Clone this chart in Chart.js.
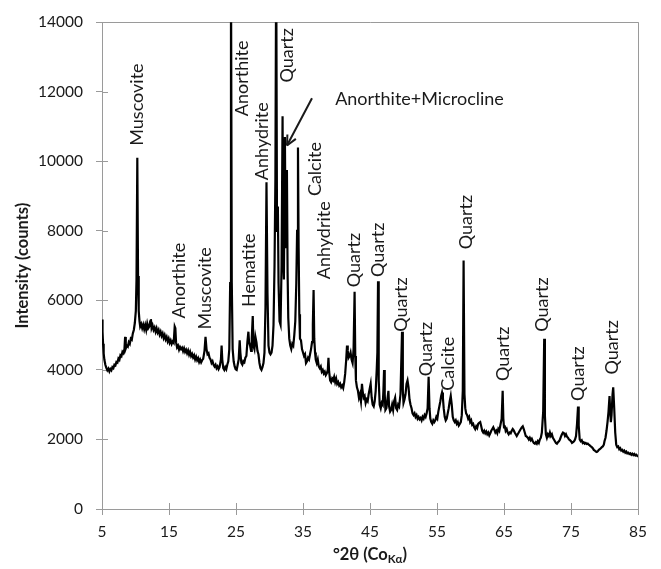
<!DOCTYPE html>
<html>
<head>
<meta charset="utf-8">
<script src="https://cdn.jsdelivr.net/npm/chart.js@4.4.0/dist/chart.umd.min.js"></script>
<style>
  html, body { margin: 0; padding: 0; background: #fff; }
  #wrap { width: 661px; height: 569px; }
</style>
</head>
<body>
<div id="wrap"><canvas id="xrd" width="661" height="569"></canvas></div>
<script>
// XRD scan: [2-theta (deg, Co K-alpha), intensity (counts)]
const scan = [
  [5.00, 5450], [5.08, 5100], [5.16, 4750], [5.25, 4480], [5.35, 4300], [5.5, 4150], [5.65, 4060], [5.8, 3990],
  [5.95, 4040], [6.1, 3960], [6.25, 4030], [6.4, 3990], [6.55, 4080], [6.7, 4050], [6.85, 4150], [7.0, 4130],
  [7.15, 4230], [7.3, 4210], [7.45, 4330], [7.6, 4290], [7.75, 4420], [7.9, 4390], [8.05, 4520], [8.2, 4480],
  [8.35, 4600], [8.45, 4950], [8.55, 4620], [8.7, 4700], [8.85, 4670], [9.0, 4800], [9.15, 4750], [9.3, 4900],
  [9.45, 4870], [9.6, 5050], [9.75, 5150], [9.9, 5350], [10.05, 5700], [10.15, 6600], [10.27, 10100], [10.38, 6700],
  [10.48, 5700], [10.6, 5400], [10.7, 5250], [10.85, 5320], [11.0, 5200], [11.15, 5300], [11.3, 5170], [11.45, 5290],
  [11.6, 5150], [11.75, 5330], [11.9, 5200], [12.05, 5250], [12.2, 5400], [12.3, 5460], [12.4, 5200], [12.55, 5280],
  [12.7, 5150], [12.85, 5220], [13.0, 5100], [13.15, 5200], [13.3, 5080], [13.45, 5150], [13.6, 5020], [13.75, 5100],
  [13.9, 4980], [14.05, 5050], [14.2, 4920], [14.35, 5000], [14.5, 4880], [14.65, 4950], [14.8, 4820], [14.95, 4900],
  [15.1, 4780], [15.25, 4850], [15.4, 4750], [15.55, 4820], [15.7, 4780], [15.85, 5250], [15.95, 5200], [16.05, 4800],
  [16.2, 4650], [16.35, 4700], [16.5, 4580], [16.65, 4660], [16.8, 4600], [16.95, 4640], [17.1, 4540], [17.25, 4620],
  [17.4, 4520], [17.55, 4580], [17.7, 4480], [17.85, 4560], [18.0, 4440], [18.15, 4520], [18.3, 4400], [18.45, 4460],
  [18.6, 4360], [18.75, 4420], [18.9, 4300], [19.05, 4380], [19.2, 4280], [19.35, 4340], [19.5, 4230], [19.65, 4300],
  [19.8, 4220], [19.95, 4280], [20.1, 4320], [20.3, 4550], [20.45, 4950], [20.6, 4600], [20.75, 4450], [20.9, 4480],
  [21.05, 4350], [21.2, 4300], [21.35, 4200], [21.5, 4250], [21.65, 4150], [21.8, 4100], [21.95, 4150], [22.1, 4050],
  [22.25, 4100], [22.4, 4020], [22.55, 4080], [22.75, 4300], [22.85, 4700], [22.95, 4300], [23.1, 4050], [23.25, 4000],
  [23.4, 4080], [23.55, 4020], [23.7, 4150], [23.85, 4250], [24.0, 4600], [24.13, 6500], [24.25, 16000], [24.37, 6500],
  [24.5, 4600], [24.65, 4250], [24.8, 4100], [24.95, 4020], [25.1, 4000], [25.25, 4150], [25.4, 4300], [25.55, 4850],
  [25.65, 4500], [25.8, 4200], [25.95, 4150], [26.1, 4250], [26.25, 4220], [26.4, 4350], [26.55, 4400], [26.7, 4800],
  [26.85, 5100], [26.95, 4800], [27.1, 4700], [27.25, 4550], [27.35, 4900], [27.5, 5550], [27.6, 4700], [27.75, 4600],
  [27.9, 4950], [28.05, 4800], [28.2, 4550], [28.35, 4450], [28.5, 4200], [28.65, 4050], [28.8, 4000], [28.95, 4080],
  [29.1, 4200], [29.25, 4500], [29.4, 5800], [29.55, 9400], [29.7, 6200], [29.85, 4700], [30.0, 4500], [30.15, 4450],
  [30.3, 4500], [30.45, 4700], [30.6, 5300], [30.75, 7000], [30.88, 9500], [31.0, 16000], [31.12, 8000], [31.25, 8700],
  [31.35, 6500], [31.5, 5400], [31.65, 5300], [31.8, 7000], [31.95, 11300], [32.05, 7200], [32.15, 6600], [32.3, 10700],
  [32.4, 7500], [32.5, 8200], [32.6, 9750], [32.7, 6800], [32.8, 5500], [32.95, 4900], [33.1, 4700], [33.25, 4600],
  [33.4, 4750], [33.55, 4700], [33.7, 5000], [33.85, 5400], [34.0, 6500], [34.12, 8000], [34.25, 10400], [34.35, 7500],
  [34.45, 5600], [34.55, 4900], [34.7, 4850], [34.85, 4600], [35.0, 4500], [35.15, 4400], [35.3, 4450], [35.45, 4200],
  [35.6, 4250], [35.75, 4350], [35.9, 4300], [36.05, 4450], [36.2, 4600], [36.35, 4800], [36.47, 5300], [36.58, 6300],
  [36.68, 4900], [36.8, 4500], [36.9, 4300], [37.05, 4200], [37.2, 4300], [37.35, 4100], [37.5, 4050], [37.65, 4100],
  [37.8, 3950], [37.95, 4000], [38.1, 3900], [38.25, 3950], [38.4, 3850], [38.55, 3900], [38.7, 4000], [38.8, 4350],
  [38.9, 3950], [39.05, 3700], [39.2, 3650], [39.35, 3750], [39.5, 3700], [39.65, 3800], [39.8, 3650], [39.95, 3750],
  [40.1, 3600], [40.25, 3650], [40.4, 3550], [40.55, 3600], [40.7, 3500], [40.85, 3550], [41.0, 3480], [41.15, 3650],
  [41.3, 3900], [41.45, 4300], [41.57, 4700], [41.68, 4550], [41.8, 4350], [41.95, 4400], [42.1, 4500], [42.25, 4300],
  [42.4, 4200], [42.55, 4600], [42.7, 6250], [42.8, 4400], [42.9, 3700], [43.05, 3500], [43.2, 3400], [43.35, 3200],
  [43.5, 3300], [43.65, 3100], [43.8, 3600], [43.9, 3400], [44.05, 3200], [44.2, 3250], [44.35, 3050], [44.5, 3150],
  [44.65, 3100], [44.8, 3300], [44.95, 3450], [45.1, 3600], [45.25, 3200], [45.4, 3000], [45.55, 2950], [45.7, 3100],
  [45.85, 3400], [46.0, 4000], [46.1, 4500], [46.2, 6550], [46.3, 3700], [46.45, 3000], [46.6, 2900], [46.75, 3050],
  [46.9, 3000], [47.0, 3400], [47.1, 4000], [47.2, 3300], [47.3, 2850], [47.45, 2900], [47.6, 3150], [47.75, 3400],
  [47.85, 2950], [48.0, 2800], [48.15, 2850], [48.3, 3000], [48.45, 2850], [48.6, 3100], [48.75, 3200], [48.9, 2900],
  [49.05, 2850], [49.2, 3000], [49.35, 2950], [49.55, 3300], [49.78, 5100], [49.9, 3400], [50.0, 3050], [50.15, 3150],
  [50.3, 3300], [50.45, 3600], [50.6, 3700], [50.75, 3500], [50.9, 3150], [51.05, 3000], [51.2, 2900], [51.35, 2750],
  [51.5, 2700], [51.65, 2750], [51.8, 2650], [51.95, 2700], [52.1, 2600], [52.25, 2650], [52.4, 2580], [52.55, 2620],
  [52.7, 2550], [52.85, 2650], [53.0, 2600], [53.15, 2700], [53.3, 2650], [53.45, 2750], [53.6, 2900], [53.75, 3800],
  [53.88, 2900], [54.0, 2600], [54.15, 2500], [54.3, 2450], [54.45, 2550], [54.6, 2500], [54.75, 2550], [54.9, 2650],
  [55.05, 2600], [55.2, 2800], [55.35, 2950], [55.5, 3100], [55.62, 3250], [55.75, 3350], [55.88, 3200], [56.0, 2900],
  [56.15, 2650], [56.3, 2550], [56.45, 2600], [56.6, 2750], [56.75, 2900], [56.9, 3100], [57.05, 3250], [57.2, 3000],
  [57.35, 2650], [57.5, 2550], [57.65, 2500], [57.8, 2550], [57.95, 2450], [58.1, 2500], [58.25, 2400], [58.4, 2450],
  [58.55, 2500], [58.7, 2700], [58.85, 3400], [58.97, 7150], [59.1, 3300], [59.22, 2900], [59.35, 2750], [59.5, 2700],
  [59.65, 2600], [59.8, 2650], [59.95, 2500], [60.1, 2550], [60.25, 2420], [60.4, 2450], [60.55, 2350], [60.7, 2300],
  [60.85, 2380], [61.0, 2330], [61.15, 2450], [61.3, 2480], [61.45, 2500], [61.6, 2380], [61.75, 2250], [61.9, 2200],
  [62.05, 2250], [62.2, 2180], [62.35, 2230], [62.5, 2150], [62.65, 2200], [62.8, 2120], [62.95, 2180], [63.1, 2250],
  [63.25, 2300], [63.4, 2350], [63.55, 2280], [63.7, 2200], [63.85, 2250], [64.0, 2180], [64.15, 2300], [64.3, 2250],
  [64.45, 2400], [64.65, 2600], [64.8, 3400], [64.9, 2600], [65.0, 2350], [65.1, 2400], [65.25, 2250], [65.4, 2300],
  [65.55, 2200], [65.7, 2150], [65.85, 2200], [66.0, 2180], [66.15, 2250], [66.3, 2300], [66.45, 2260], [66.6, 2200],
  [66.75, 2150], [66.9, 2100], [67.05, 2150], [67.2, 2200], [67.35, 2250], [67.5, 2300], [67.65, 2350], [67.8, 2380],
  [67.95, 2300], [68.1, 2200], [68.25, 2100], [68.4, 2080], [68.55, 2050], [68.7, 2000], [68.85, 2050], [69.0, 1980],
  [69.15, 2020], [69.3, 1950], [69.45, 1900], [69.6, 1880], [69.75, 1920], [69.9, 1880], [70.05, 1950], [70.2, 1900],
  [70.35, 2000], [70.5, 2050], [70.65, 2200], [70.85, 2800], [71.0, 4900], [71.1, 2700], [71.25, 2150], [71.4, 2050],
  [71.55, 2150], [71.7, 2100], [71.85, 2200], [72.0, 2100], [72.15, 2150], [72.3, 2050], [72.45, 2000], [72.6, 1950],
  [72.75, 1900], [72.9, 1880], [73.05, 1920], [73.2, 1950], [73.35, 2000], [73.5, 2080], [73.65, 2150], [73.8, 2200],
  [73.95, 2180], [74.1, 2100], [74.25, 2150], [74.4, 2080], [74.55, 2050], [74.7, 2000], [74.85, 1980], [75.0, 1950],
  [75.15, 1900], [75.3, 1920], [75.45, 1950], [75.6, 2000], [75.75, 2100], [75.9, 2450], [76.05, 2950], [76.15, 2400],
  [76.3, 2000], [76.45, 1950], [76.6, 1980], [76.75, 1900], [76.9, 1920], [77.05, 1880], [77.2, 1900], [77.35, 1870],
  [77.5, 1880], [77.65, 1850], [77.8, 1830], [77.95, 1800], [78.1, 1780], [78.25, 1750], [78.4, 1700], [78.55, 1680],
  [78.7, 1650], [78.85, 1640], [79.0, 1660], [79.15, 1700], [79.3, 1720], [79.45, 1750], [79.6, 1780], [79.75, 1800],
  [79.9, 1850], [80.0, 1950], [80.15, 2050], [80.3, 2250], [80.45, 2500], [80.6, 2800], [80.75, 3250], [80.85, 2800],
  [80.95, 2500], [81.05, 2700], [81.2, 3300], [81.3, 3500], [81.45, 2900], [81.6, 2200], [81.75, 1850], [81.9, 1780],
  [82.05, 1800], [82.2, 1720], [82.35, 1750], [82.5, 1680], [82.65, 1700], [82.8, 1650], [82.95, 1680], [83.1, 1620],
  [83.25, 1650], [83.4, 1600], [83.55, 1620], [83.7, 1580], [83.85, 1600], [84.0, 1560], [84.15, 1590], [84.3, 1550],
  [84.45, 1580], [84.6, 1540], [84.75, 1560], [84.9, 1530], [85.0, 1550]
];

// phase names written beside the peaks, anchored at [2-theta, counts] where the text starts
const phaseNames = ['Muscovite', 'Anorthite', 'Muscovite', 'Anorthite', 'Hematite', 'Anhydrite', 'Quartz',
  'Calcite', 'Anhydrite', 'Quartz', 'Quartz', 'Quartz', 'Quartz', 'Calcite', 'Quartz', 'Quartz', 'Quartz',
  'Quartz', 'Quartz'];
const phaseAt = [[10.3, 10450], [16.5, 5480], [20.4, 5160], [25.9, 11300], [26.9, 5810], [28.9, 9460],
  [32.6, 12270], [36.8, 9000], [38.2, 6610], [42.7, 6380], [46.2, 6670], [49.7, 5100], [53.4, 3820],
  [56.7, 3400], [59.35, 7470], [64.9, 3680], [70.7, 5100], [76.0, 3110], [81.1, 3870]];

// the overlapping reflection near 32 deg gets a callout
const calloutText = 'Anorthite+Microcline';
const calloutTextAt = [39.8, 11790];
const calloutFrom = [36.34, 11815];
const calloutTo = [32.61, 10458];

const xRange = [5, 85];
const yRange = [0, 14000];

const axisGrey = '#9a9a9a';
const inkColor = '#1a1a1a';
const fontFamily = 'Lato, "Open Sans", sans-serif';

Chart.defaults.font.family = fontFamily;
Chart.defaults.color = inkColor;

function line(ctx, x1, y1, x2, y2) {
  ctx.beginPath();
  ctx.moveTo(x1, y1);
  ctx.lineTo(x2, y2);
  ctx.stroke();
}

const frame = {
  id: 'frame',
  beforeDatasetsDraw(chart) {
    const ctx = chart.ctx;
    const a = chart.chartArea;
    const xs = chart.scales.x;
    const ys = chart.scales.y;
    ctx.save();
    ctx.strokeStyle = axisGrey;
    ctx.lineWidth = 1;
    // top and right edges of the plot box
    line(ctx, a.left, Math.round(a.top) + 0.5, Math.round(a.right) + 0.5, Math.round(a.top) + 0.5);
    line(ctx, Math.round(a.right) + 0.5, a.top, Math.round(a.right) + 0.5, a.bottom);
    // ticks cross the axes, so add the inner halves
    xs.ticks.forEach(t => {
      const px = Math.round(xs.getPixelForValue(t.value)) + 0.5;
      line(ctx, px, a.bottom, px, a.bottom - 6);
    });
    ys.ticks.forEach(t => {
      const py = Math.round(ys.getPixelForValue(t.value)) + 0.5;
      line(ctx, a.left, py, a.left + 6, py);
    });
    ctx.restore();
  },
  afterDatasetsDraw(chart) {
    const ctx = chart.ctx;
    const a = chart.chartArea;
    const xs = chart.scales.x;
    const ys = chart.scales.y;
    ctx.save();
    ctx.fillStyle = inkColor;
    ctx.strokeStyle = inkColor;

    // vertical phase names
    ctx.font = '18px ' + fontFamily;
    ctx.textAlign = 'left';
    ctx.textBaseline = 'middle';
    phaseNames.forEach((name, i) => {
      const px = xs.getPixelForValue(phaseAt[i][0]);
      const py = ys.getPixelForValue(phaseAt[i][1]);
      ctx.save();
      ctx.translate(px, py);
      ctx.rotate(-Math.PI / 2);
      ctx.fillText(name, 0, 0);
      ctx.restore();
    });

    // callout text and arrow
    ctx.fillText(calloutText, xs.getPixelForValue(calloutTextAt[0]), ys.getPixelForValue(calloutTextAt[1]));
    const x1 = xs.getPixelForValue(calloutFrom[0]);
    const y1 = ys.getPixelForValue(calloutFrom[1]);
    const x2 = xs.getPixelForValue(calloutTo[0]);
    const y2 = ys.getPixelForValue(calloutTo[1]);
    ctx.lineWidth = 2;
    line(ctx, x1, y1, x2, y2);
    const ang = Math.atan2(y2 - y1, x2 - x1);
    const head = 11;
    line(ctx, x2, y2, x2 - head * Math.cos(ang - 0.45), y2 - head * Math.sin(ang - 0.45));
    line(ctx, x2, y2, x2 - head * Math.cos(ang + 0.45), y2 - head * Math.sin(ang + 0.45));

    // axis titles
    ctx.font = 'bold 16.5px ' + fontFamily;
    ctx.textAlign = 'center';
    ctx.save();
    ctx.translate(23, (a.top + a.bottom) / 2);
    ctx.rotate(-Math.PI / 2);
    ctx.fillText('Intensity (counts)', 0, 0);
    ctx.restore();

    const main = '\u00b02\u03b8 (Co';
    const sub = 'K\u03b1';
    const close = ')';
    const mainFont = 'bold 16.5px ' + fontFamily;
    const subFont = 'bold 11.5px ' + fontFamily;
    ctx.font = mainFont;
    const w1 = ctx.measureText(main).width;
    const w3 = ctx.measureText(close).width;
    ctx.font = subFont;
    const w2 = ctx.measureText(sub).width;
    let tx = (a.left + a.right) / 2 - (w1 + w2 + w3) / 2;
    const base = 560;
    ctx.textAlign = 'left';
    ctx.textBaseline = 'alphabetic';
    ctx.font = mainFont;
    ctx.fillText(main, tx, base);
    tx += w1;
    ctx.font = subFont;
    ctx.fillText(sub, tx, base + 3);
    tx += w2;
    ctx.font = mainFont;
    ctx.fillText(close, tx, base);
    ctx.restore();
  }
};

new Chart(document.getElementById('xrd'), {
  type: 'line',
  data: {
    datasets: [{
      data: scan.map(p => ({ x: p[0], y: p[1] })),
      borderColor: '#000',
      borderWidth: 2.2,
      pointRadius: 0,
      tension: 0,
      fill: false
    }]
  },
  options: {
    responsive: false,
    animation: false,
    devicePixelRatio: 1,
    layout: { padding: { top: 17, right: 23, left: 0, bottom: 0 } },
    plugins: { legend: { display: false }, tooltip: { enabled: false } },
    scales: {
      x: {
        type: 'linear',
        min: xRange[0],
        max: xRange[1],
        afterFit: s => { s.height = 60; },
        ticks: { stepSize: 10, padding: 8, color: inkColor, font: { size: 15.5 }, maxRotation: 0,
          callback: v => String(v) },
        grid: { display: true, drawOnChartArea: false, drawTicks: true, tickLength: 6, color: axisGrey },
        border: { display: true, color: axisGrey, width: 1 }
      },
      y: {
        min: yRange[0],
        max: yRange[1],
        afterFit: s => { s.width = 102; },
        ticks: { stepSize: 2000, padding: 13, color: inkColor, font: { size: 15.5 },
          callback: v => String(v) },
        grid: { display: true, drawOnChartArea: false, drawTicks: true, tickLength: 6, color: axisGrey },
        border: { display: true, color: axisGrey, width: 1 }
      }
    }
  },
  plugins: [frame]
});
</script>
</body>
</html>
